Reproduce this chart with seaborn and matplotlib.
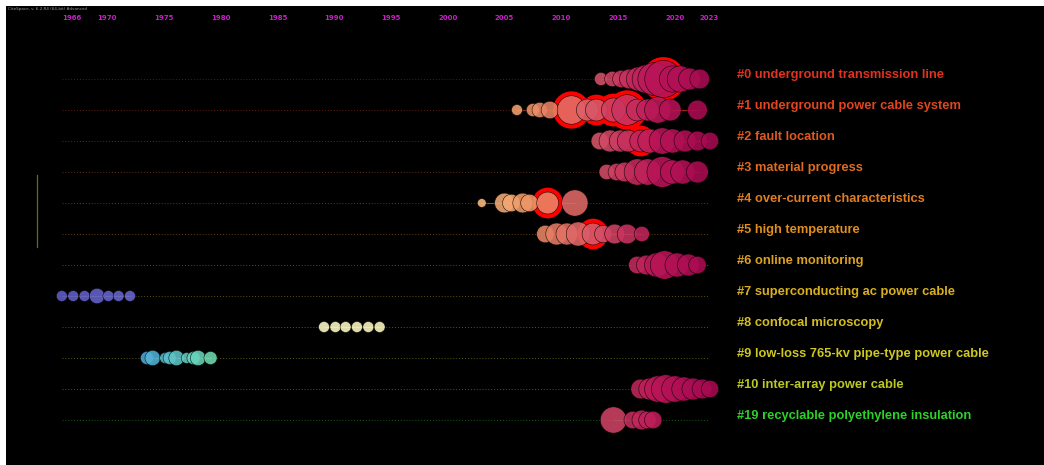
import numpy as np
import pandas as pd
import matplotlib.pyplot as plt
import matplotlib.colors as colors
import seaborn as sns

# cluster labels (timeline rows, top to bottom)
labels = ["#0 underground transmission line", "#1 underground power cable system",
          "#2 fault location", "#3 material progress", "#4 over-current characteristics",
          "#5 high temperature", "#6 online monitoring", "#7 superconducting ac power cable",
          "#8 confocal microscopy", "#9 low-loss 765-kv pipe-type power cable",
          "#10 inter-array power cable", "#19 recyclable polyethylene insulation"]
label_colors = ["#e0321e", "#e0461f", "#e05a20", "#df6c20", "#e07e20", "#e0901f",
                "#dca220", "#d8b020", "#d4be20", "#cec820", "#bcc820", "#2ed02a"]

tick_years = [1966, 1970, 1975, 1980, 1985, 1990, 1995, 2000, 2005, 2010, 2015, 2020, 2023]

# node years / citation counts per cluster
c0_years = [2013.5, 2014.5, 2015.3, 2016.0, 2016.8, 2017.5, 2018.2, 2019.0, 2019.8, 2020.5, 2021.3, 2022.2]
c0_freq = [36, 49, 64, 81, 121, 169, 225, 289, 144, 144, 100, 81]
c0_burst = [2019.0]

c1_years = [2006.1, 2007.5, 2008.1, 2009.0, 2010.9, 2012.3, 2013.1, 2014.6, 2015.8, 2016.7, 2017.6, 2018.5, 2019.6, 2022.0]
c1_freq = [25, 36, 49, 64, 169, 100, 100, 121, 196, 100, 100, 144, 100, 81]
c1_burst = [2010.9, 2013.1, 2014.6, 2015.8]

c2_years = [2013.4, 2014.3, 2015.2, 2015.9, 2017.0, 2017.8, 2018.9, 2019.8, 2020.9, 2022.0, 2023.1]
c2_freq = [64, 100, 100, 100, 100, 121, 144, 121, 100, 81, 64]
c2_burst = [2017.0]

c3_years = [2014.0, 2014.9, 2015.6, 2016.7, 2017.6, 2018.9, 2019.8, 2020.7, 2022.0]
c3_freq = [49, 64, 81, 144, 144, 196, 121, 121, 100]
c3_burst = []

c4_years = [2003.0, 2005.0, 2005.6, 2006.6, 2007.2, 2008.8, 2011.2]
c4_freq = [16, 81, 64, 81, 64, 100, 144]
c4_burst = [2008.8]

c5_years = [2008.6, 2009.6, 2010.5, 2011.5, 2012.8, 2013.7, 2014.7, 2015.8, 2017.1]
c5_freq = [64, 100, 100, 121, 100, 64, 81, 81, 49]
c5_burst = [2012.8]

c6_years = [2016.7, 2017.5, 2018.4, 2019.1, 2020.2, 2021.2, 2022.0]
c6_freq = [64, 81, 121, 169, 121, 100, 64]
c6_burst = []

c7_years = [1966.0, 1967.0, 1968.0, 1969.1, 1970.1, 1971.0, 1972.0]
c7_freq = [25, 25, 25, 49, 25, 25, 25]
c7_burst = []

c8_years = [1989.1, 1990.1, 1991.0, 1992.0, 1993.0, 1994.0]
c8_freq = [25, 25, 25, 25, 25, 25]
c8_burst = []

c9_years = [1973.5, 1974.0, 1975.1, 1975.5, 1976.1, 1977.0, 1977.6, 1978.0, 1979.1]
c9_freq = [36, 49, 25, 36, 49, 25, 36, 49, 36]
c9_burst = []

c10_years = [2017.0, 2017.8, 2018.5, 2019.2, 2020.0, 2020.8, 2021.6, 2022.4, 2023.1]
c10_freq = [81, 100, 144, 169, 144, 121, 100, 81, 64]
c10_burst = []

c19_years = [2014.6, 2016.3, 2017.1, 2017.6, 2018.1]
c19_freq = [144, 64, 81, 64, 64]
c19_burst = []

all_years = [c0_years, c1_years, c2_years, c3_years, c4_years, c5_years,
             c6_years, c7_years, c8_years, c9_years, c10_years, c19_years]
all_freq = [c0_freq, c1_freq, c2_freq, c3_freq, c4_freq, c5_freq,
            c6_freq, c7_freq, c8_freq, c9_freq, c10_freq, c19_freq]
all_burst = [c0_burst, c1_burst, c2_burst, c3_burst, c4_burst, c5_burst,
             c6_burst, c7_burst, c8_burst, c9_burst, c10_burst, c19_burst]

rows = []
for i, (ys, fs, bs) in enumerate(zip(all_years, all_freq, all_burst)):
    for y, f in zip(ys, fs):
        rows.append({"year": y, "row": i, "freq": f, "burst": y in bs})
df = pd.DataFrame(rows)
df["ring"] = (np.sqrt(df["freq"]) + 4) ** 2

# year colour scale (CiteSpace-like)
anchors = [(1966, "#5f5fc8"), (1972, "#6969d2"), (1973.5, "#50afd7"), (1979, "#6edcb4"),
           (1989, "#fffcc8"), (1994, "#fffac0"), (2003, "#fabe82"), (2007, "#f09b69"),
           (2010, "#e67864"), (2013, "#d85a6a"), (2016, "#c8325f"), (2019, "#b91457"),
           (2023, "#a80a52")]
y0, y1 = anchors[0][0], anchors[-1][0]
cmap = colors.LinearSegmentedColormap.from_list(
    "cs", [((a - y0) / (y1 - y0), c) for a, c in anchors])

px_per_year = 11.35
fig = plt.figure(figsize=(10.44, 4.65), dpi=100, facecolor="white")
ax = fig.add_axes([6 / 1044, 0, 1038 / 1044, 459 / 465])
ax.set_facecolor("black")
ax.set_xlim(1975 + (6 - 164) / px_per_year, 1975 + (1044 - 164) / px_per_year)
ax.set_ylim((465 - 79) / 31, (6 - 79) / 31)
for s in ax.spines.values():
    s.set_visible(False)

# dotted row guides and faint links
for i, c in enumerate(label_colors):
    ax.hlines(i, tick_years[0], tick_years[-1], colors=c, alpha=0.45,
              linestyles=(0, (1, 2)), linewidth=0.7, zorder=1)
    ys = all_years[i]
    ax.hlines(i, min(ys), max(ys), colors=c, alpha=0.6, linewidth=0.8, zorder=1)

k = 2.0736 * 1.2
size_kw = dict(sizes=(k * 16, k * 400), size_norm=(16, 400), legend=False)

# burst rings
sns.scatterplot(data=df[df["burst"]], x="year", y="row", size="ring", color="#ff0000",
                linewidth=0, ax=ax, zorder=2, **size_kw)
# nodes
sns.scatterplot(data=df, x="year", y="row", hue="year", palette=cmap, hue_norm=(y0, y1),
                size="freq", alpha=0.88, edgecolor=(0, 0, 0, 0.15), linewidth=0.4,
                ax=ax, zorder=3, **size_kw)

ax.set_xlabel("")
ax.set_ylabel("")
ax.set_yticks([])
ax.set_xticks(tick_years)
ax.set_xticklabels([str(y) for y in tick_years])
ax.tick_params(axis="x", bottom=False, labelbottom=False, top=True, labeltop=True,
               length=0, pad=-11, labelsize=5, colors="#c81ec8")
for t in ax.get_xticklabels():
    t.set_fontweight("bold")
ax.get_xticklabels()[0].set_horizontalalignment("left")

label_x = 1975 + (737 - 164) / px_per_year
for i, (lab, c) in enumerate(zip(labels, label_colors)):
    ax.text(label_x, i - 0.14, lab, color=c, fontsize=9.3, fontweight="bold",
            family="Liberation Sans", va="center", ha="left")

ax.axvline(1975 + (37 - 164) / px_per_year, ymin=(465 - 247) / 459, ymax=(465 - 175) / 459,
           color="#5a7010", linewidth=0.9)

fig.text(8 / 1044, 1 - 9 / 465, "CiteSpace, v. 6.2.R4 (64-bit) Advanced", fontsize=3,
         color="#9a9a9a", va="center")

fig.savefig("out.png", dpi=100, facecolor=fig.get_facecolor())
